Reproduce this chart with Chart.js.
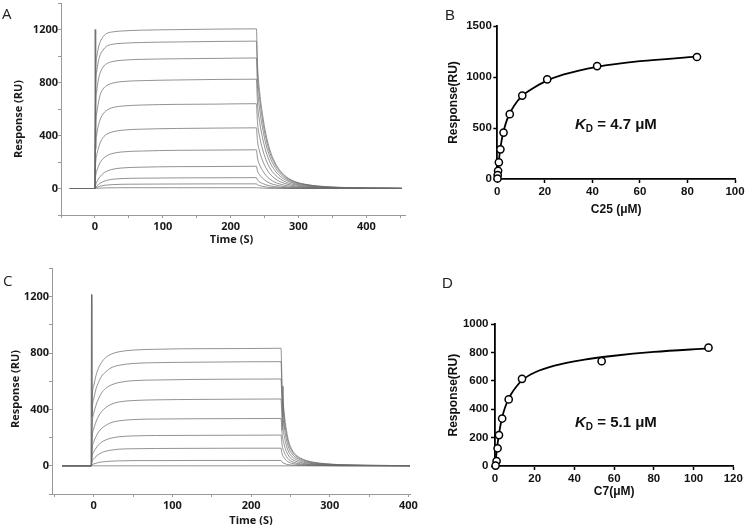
<!DOCTYPE html>
<html><head><meta charset="utf-8">
<script src="https://cdn.jsdelivr.net/npm/chart.js@4.4.0/dist/chart.umd.min.js"></script>
<style>
html,body{margin:0;padding:0;background:#fff;}
#wrap{position:relative;width:745px;height:525px;overflow:hidden;background:#fff;}
canvas{position:absolute;}
.t{position:absolute;white-space:nowrap;line-height:1.2;color:#1a1a1a;}
.ac{font-family:'Open Sans',sans-serif;font-weight:700;font-size:11px;transform:translate(-50%,-50%);}
.rot{transform:translate(-50%,-50%) rotate(-90deg);}
.let{font-size:15px;line-height:15px;color:#222;}
.kd{font-family:'Liberation Sans',Arial,sans-serif;font-weight:700;font-size:15px;line-height:15px;color:#111;}
.kd sub{font-size:10px;line-height:0;vertical-align:-3px;font-style:normal;}
</style></head><body>
<div id="wrap">
<canvas id="cA" width="420" height="250" style="left:0;top:0"></canvas>
<canvas id="cB" width="325" height="250" style="left:420px;top:0"></canvas>
<canvas id="cC" width="420" height="270" style="left:0;top:255px"></canvas>
<canvas id="cD" width="325" height="270" style="left:420px;top:255px"></canvas>

<div class="t let" style="left:2px;top:6px;font-family:'Open Sans',sans-serif;">A</div>
<div class="t let" style="left:445px;top:7px;font-family:'Liberation Sans',Arial,sans-serif;">B</div>
<div class="t let" style="left:3px;top:273px;font-family:'Open Sans',sans-serif;">C</div>
<div class="t let" style="left:442px;top:275px;font-family:'Liberation Sans',Arial,sans-serif;">D</div>

<div class="t ac rot" style="left:18px;top:118.5px;">Response (RU)</div>
<div class="t ac" style="left:231.5px;top:239px;">Time (S)</div>
<div class="t ac rot" style="left:15px;top:389px;">Response (RU)</div>
<div class="t ac" style="left:251px;top:520px;">Time (S)</div>

<div class="t kd" style="left:575px;top:115.5px;"><i>K</i><sub>D</sub> = 4.7 μM</div>
<div class="t kd" style="left:575px;top:414px;"><i>K</i><sub>D</sub> = 5.1 μM</div>
</div>
<script>
// ---------- Panel A : sensorgram (C25) ----------
const timeA = [-37, 0, 1, 2.5, 5, 8, 12, 17, 25, 40, 70, 120, 180, 238, 239.5, 243, 247, 252, 258, 265, 273, 283, 295, 310, 330, 360, 400, 452];
const a1205 = [0,0, 868, 988,1060,1109,1145,1169,1181,1189,1195,1199,1203, 1205,950,720,560,410,290,200,135,85,52,32,18,9,4,2];
const a1112 = [0,0, 756, 878, 956,1012,1045,1073,1088,1096,1102,1106,1110, 1112,878,667,517,378,267,185,125,79,48,30,17,8,4,2];
const a985  = [0,0, 611, 729, 818, 877, 916, 941, 957, 968, 975, 979, 982, 985,778,591,458,335,236,164,110,70,42,27,15,7,3,2];
const a825  = [0,0, 454, 561, 644, 710, 751, 776, 794, 807, 814, 819, 823, 825,652,495,384,281,198,137,92,59,35,22,12,6,3,1];
const a640  = [0,0, 320, 403, 474, 525, 563, 589, 609, 622, 630, 635, 637, 640,506,384,298,218,154,106,72,45,28,17,10,5,2,1];
const a458  = [0,0, 183, 247, 302, 348, 385, 408, 426, 440, 448, 453, 456, 458,362,275,213,156,110,76,51,33,20,12,7,3,2,1];
const a292  = [0,0, 88, 128, 166, 199, 225, 245, 263, 276, 283, 288, 290, 292,231,175,136,99,70,48,33,21,13,8,4,2,1,0];
const a168  = [0,0, 25, 47, 71, 92, 113, 129, 144, 155, 161, 165, 166, 168,133,101,78,57,40,28,19,12,7,5,3,1,1,0];
const a82   = [0,0, 8, 18, 30, 41, 52, 61, 69, 75, 78, 80, 81, 82,65,49,38,28,20,14,9,6,4,2,1,1,0,0];
const a35   = [0,0, 3, 8, 13, 18, 22, 26, 29, 32, 33, 34, 35, 35,28,21,16,12,8,6,4,2,2,1,1,0,0,0];
const a6    = [0,0, 1, 1, 2, 3, 4, 5, 5, 6, 6, 6, 6, 6,5,4,3,2,1,1,1,0,0,0,0,0,0,0];
const spikeTimeA = [-0.3, 0.3, 1.2];
const spikeValA  = [0, 1200, 300];
const xTicksA = [-50, 0, 50, 100, 150, 200, 250, 300, 350, 400, 450];
const xLabelsA = [0, 100, 200, 300, 400];
const yTicksAC = [-200, 0, 200, 400, 600, 800, 1000, 1200, 1400];
const yLabelsAC = [0, 400, 800, 1200];

// ---------- Panel C : sensorgram (C7) ----------
const timeC = [-40, -3, -2, 0, 3, 6, 10, 15, 22, 32, 50, 80, 130, 190, 238, 239.5, 242, 245, 248, 252, 257, 263, 270, 280, 295, 315, 345, 380, 402];
const c834 = [0,0, 459,567,642,692,734,767,792,809,821,827,831,832, 834,559,380,250,170,115,78,55,38,25,15,8,4,2,1];
const c739 = [0,0, 370,473,547,591,636,665,695,713,726,732,735,738, 739,495,337,222,151,102,69,49,34,22,13,7,4,2,1];
const c616 = [0,0, 277,370,431,474,517,548,573,591,604,609,613,615, 616,413,281,185,126,85,58,41,28,18,11,6,3,1,1];
const c474 = [0,0, 190,261,313,351,384,412,436,453,463,468,471,473, 474,318,216,142,97,65,45,31,22,14,9,5,2,1,1];
const c336 = [0,0, 118,168,208,239,265,286,306,319,328,332,334,335, 336,225,153,101,69,46,32,22,15,10,6,3,2,1,0];
const c218 = [0,0, 65,98,126,148,168,183,196,206,212,215,216,217, 218,146,99,65,44,30,20,14,10,7,4,2,1,1,0];
const c125 = [0,0, 31,50,66,80,93,103,111,118,121,123,124,125, 125,84,57,38,26,17,12,8,6,4,2,1,1,0,0];
const c38  = [0,0, 8,13,18,23,27,30,33,35,37,37,38,38, 38,25,17,11,8,5,4,3,2,1,1,0,0,0,0];
const c0   = [0,0, 0,0,0,0,0,0,0,0,0,0,0,0, 0,0,0,0,0,0,0,0,0,0,0,0,0,0,0];
const spikeTimeC1 = [-3.5, -2.8, -2.2];
const spikeValC1  = [0, 1215, 350];
const spikeTimeC2 = [239.6, 240.6, 242];
const spikeValC2  = [250, 565, 260];
const xTicksC = [-50, 0, 50, 100, 150, 200, 250, 300, 350, 400];
const xLabelsC = [0, 100, 200, 300, 400];

// ---------- Panel B : steady-state fit (C25) ----------
const concB = [84, 42, 21, 10.5, 5.25, 2.63, 1.31, 0.66, 0.33, 0.16, 0.08];
const respB = [1196, 1107, 977, 818, 636, 455, 291, 163, 81, 38, 5];
const fitXB = [0, 0.5, 1, 2, 3, 4, 5, 7, 10, 14, 20, 28, 42, 60, 84];
const fitYB = [0, 140, 250, 400, 500, 575, 630, 715, 805, 875, 955, 1025, 1100, 1155, 1200];
const xTicksB = [0, 20, 40, 60, 80, 100];
const yTicksB = [0, 500, 1000, 1500];

// ---------- Panel D : steady-state fit (C7) ----------
const concD = [107.5, 53.7, 13.6, 6.9, 3.6, 2.0, 1.3, 0.8, 0.3];
const respD = [835, 740, 615, 470, 335, 218, 125, 35, 3];
const fitXD = [0, 0.5, 1, 2, 3, 4, 6, 8, 11, 14, 20, 30, 45, 60, 80, 107.5];
const fitYD = [0, 60, 125, 225, 305, 365, 448, 505, 565, 610, 660, 708, 750, 778, 805, 830];
const xTicksD = [0, 20, 40, 60, 80, 100, 120];
const yTicksD = [0, 200, 400, 600, 800, 1000];

// ---------- helpers ----------
const pts = (xs, ys) => xs.map((x, i) => ({x: x, y: ys[i]}));
const GREY = 'rgba(105,105,105,0.72)';
function curve(xs, ys, mono) {
  return {data: pts(xs, ys), borderColor: GREY, borderWidth: 1, pointRadius: 0, fill: false,
          cubicInterpolationMode: mono ? 'monotone' : 'default', tension: 0};
}
const sprFont = {family: "'Open Sans', sans-serif", weight: 'bold', size: 11};
function sprScales(xmin, xmax, xT, xL, yT, yL, yW, xH) {
  return {
    x: {type: 'linear', min: xmin, max: xmax,
        afterBuildTicks: s => { s.ticks = xT.map(v => ({value: v})); },
        afterFit: s => { s.height = xH; s.paddingLeft = 0; s.paddingRight = 0; },
        ticks: {autoSkip: false, maxRotation: 0, padding: 2, color: '#1a1a1a', font: sprFont,
                callback: v => xL.includes(v) ? String(v) : ''},
        grid: {drawOnChartArea: false, drawTicks: true, tickLength: 3, tickColor: '#999'},
        border: {display: true, color: '#999', width: 1}},
    y: {type: 'linear', min: -200, max: 1400,
        afterBuildTicks: s => { s.ticks = yT.map(v => ({value: v})); },
        afterFit: s => { s.width = yW; s.paddingTop = 0; s.paddingBottom = 0; },
        ticks: {autoSkip: false, padding: 0, color: '#1a1a1a', font: sprFont,
                callback: v => yL.includes(v) ? String(v) : ''},
        grid: {drawOnChartArea: false, drawTicks: true, tickLength: 3, tickColor: '#999'},
        border: {display: true, color: '#999', width: 1}}
  };
}
const fitFont = {family: "'Liberation Sans', Arial, sans-serif", weight: 'bold', size: 11.5};
const titleFont = {family: "'Liberation Sans', Arial, sans-serif", weight: 'bold', size: 12};
function fitScales(xmax, xT, ymax, yT, yW, xH, xTitle, xTitlePad, yTickPad) {
  return {
    x: {type: 'linear', min: 0, max: xmax,
        afterBuildTicks: s => { s.ticks = xT.map(v => ({value: v})); },
        afterFit: s => { s.height = xH; s.paddingLeft = 0; s.paddingRight = 0; },
        ticks: {autoSkip: false, maxRotation: 0, padding: 1.5, color: '#111', font: fitFont,
                callback: v => String(v)},
        grid: {drawOnChartArea: false, drawTicks: true, tickLength: 4, tickColor: '#000', tickWidth: 1.5},
        border: {display: true, color: '#000', width: 1.8},
        title: {display: true, text: xTitle, color: '#111', font: titleFont, padding: {top: 0, bottom: xTitlePad}}},
    y: {type: 'linear', min: 0, max: ymax,
        afterBuildTicks: s => { s.ticks = yT.map(v => ({value: v})); },
        afterFit: s => { s.width = yW; s.paddingTop = 0; s.paddingBottom = 0; },
        ticks: {autoSkip: false, padding: yTickPad, color: '#111', font: fitFont,
                callback: v => String(v)},
        grid: {drawOnChartArea: false, drawTicks: true, tickLength: 4, tickColor: '#000', tickWidth: 1.5},
        border: {display: true, color: '#000', width: 1.8},
        title: {display: true, text: 'Response(RU)', color: '#111', font: titleFont, padding: {top: 26.1, bottom: 0}}}
  };
}
const baseOpts = {responsive: false, animation: false, devicePixelRatio: 1,
  plugins: {legend: {display: false}, tooltip: {enabled: false}}, events: []};

// ---------- Chart A ----------
const curvesA = [a1205, a1112, a985, a825, a640, a458, a292, a168, a82, a35, a6];
new Chart(document.getElementById('cA'), {
  type: 'line',
  data: {datasets: [curve(spikeTimeA, spikeValA, false)].concat(curvesA.map(v => curve(timeA, v, true)))},
  options: Object.assign({}, baseOpts, {
    layout: {padding: {left: 0, top: 3, right: 15, bottom: 0}},
    scales: sprScales(-50, 457, xTicksA, xLabelsA, yTicksAC, yLabelsAC, 61, 35)})
});

// ---------- Chart C ----------
const curvesC = [c834, c739, c616, c474, c336, c218, c125, c38, c0];
new Chart(document.getElementById('cC'), {
  type: 'line',
  data: {datasets: [curve(spikeTimeC1, spikeValC1, false), curve(spikeTimeC2, spikeValC2, false)]
          .concat(curvesC.map(v => curve(timeC, v, true)))},
  options: Object.assign({}, baseOpts, {
    layout: {padding: {left: 0, top: 13.5, right: 10, bottom: 0}},
    scales: sprScales(-53, 402, xTicksC, xLabelsC, yTicksAC, yLabelsAC, 52, 31)})
});

// ---------- Chart B / D ----------
function fitDatasets(cx, cy, fx, fy) {
  return [
    {data: pts(cx, cy), showLine: false, pointRadius: 3.6, pointBorderWidth: 1.5,
     pointBackgroundColor: '#fff', pointBorderColor: '#000', borderColor: '#000', clip: false},
    {data: pts(fx, fy), borderColor: '#000', borderWidth: 1.8, pointRadius: 0, fill: false,
     cubicInterpolationMode: 'monotone', clip: false}
  ];
}
new Chart(document.getElementById('cB'), {
  type: 'line',
  data: {datasets: fitDatasets(concB, respB, fitXB, fitYB)},
  options: Object.assign({}, baseOpts, {
    layout: {padding: {left: 0, top: 26, right: 10, bottom: 21}},
    scales: fitScales(100, xTicksB, 1500, yTicksB, 77.3, 50, 'C25 (μM)', 11.8, 1.5)})
});
new Chart(document.getElementById('cD'), {
  type: 'line',
  data: {datasets: fitDatasets(concD, respD, fitXD, fitYD)},
  options: Object.assign({}, baseOpts, {
    layout: {padding: {left: 0, top: 69.3, right: 11.7, bottom: 19}},
    scales: fitScales(120, xTicksD, 1000, yTicksD, 75, 40, 'C7(μM)', 6.8, 2.5)})
});
</script>
</body></html>
